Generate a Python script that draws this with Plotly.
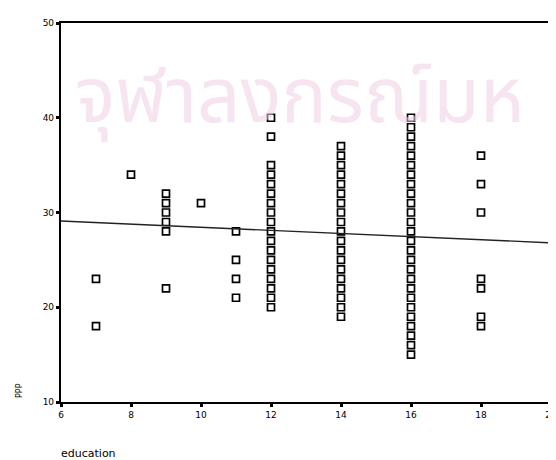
import plotly.graph_objects as go

# education values (x) and PPP scores (y), read column by column
edu_7 = [23, 18]
edu_8 = [34]
edu_9 = [32, 31, 30, 29, 28, 22]
edu_10 = [31]
edu_11 = [28, 25, 23, 21]
edu_12 = [40, 38, 35, 34, 33, 32, 31, 30, 29, 28, 27, 26, 25, 24, 23, 22, 21, 20]
edu_14 = [37, 36, 35, 34, 33, 32, 31, 30, 29, 28, 27, 26, 25, 24, 23, 22, 21, 20, 19]
edu_16 = [40, 39, 38, 37, 36, 35, 34, 33, 32, 31, 30, 29, 28, 27, 26, 25, 24, 23, 22,
          21, 20, 19, 18, 17, 16, 15]
edu_18 = [36, 33, 30, 23, 22, 19, 18]

groups = {7: edu_7, 8: edu_8, 9: edu_9, 10: edu_10, 11: edu_11,
          12: edu_12, 14: edu_14, 16: edu_16, 18: edu_18}

# fitted line end points
fit_x = [6, 20]
fit_y = [29.1, 26.8]

x_ticks = [6, 8, 10, 12, 14, 16, 18, 20]
y_ticks = [10, 20, 30, 40, 50]

# visible part of the scanned page's watermark
watermark = "จุฬาลงกรณ์มห"

xs, ys = [], []
for edu, vals in groups.items():
    for v in vals:
        xs.append(edu)
        ys.append(v)

fig = go.Figure()

fig.add_trace(go.Scatter(
    x=xs, y=ys, mode="markers",
    marker=dict(symbol="square-open", size=7, color="black", line=dict(width=1.7)),
    showlegend=False, hoverinfo="x+y"))

fig.add_trace(go.Scatter(
    x=fit_x, y=fit_y, mode="lines",
    line=dict(color="#222222", width=1.4),
    showlegend=False))

label_font = dict(family="DejaVu Sans, Liberation Sans, sans-serif", size=9, color="black")

axis_common = dict(
    showline=True, linecolor="black", linewidth=2.2, mirror=True,
    ticks="outside", ticklen=3, tickwidth=2.5, tickcolor="black",
    showgrid=False, zeroline=False, tickfont=label_font,
)

fig.update_xaxes(range=[6, 20], tickvals=x_ticks, ticktext=[str(t) for t in x_ticks],
                 **axis_common)
fig.update_yaxes(range=[10, 50], tickvals=y_ticks, ticktext=[str(t) for t in y_ticks],
                 **axis_common)

wm_font = "Noto Sans Thai, Noto Sans, DejaVu Sans, sans-serif"
fig.add_annotation(text=watermark, xref="paper", yref="paper", x=0.025, y=0.80,
                   xanchor="left", yanchor="middle", showarrow=False,
                   font=dict(family=wm_font, size=76, color="rgba(238,205,228,0.55)"))

fig.add_annotation(text="education", xref="paper", yref="paper", x=-0.005, y=-0.135,
                   xanchor="left", yanchor="middle", showarrow=False,
                   font=dict(family="DejaVu Sans, sans-serif", size=11, color="black"))
fig.add_annotation(text="PPP", xref="paper", yref="paper", x=-0.085, y=0.03,
                   xanchor="center", yanchor="middle", showarrow=False, textangle=-90,
                   font=dict(family="DejaVu Sans, sans-serif", size=8, color="black"))

fig.update_layout(
    width=556, height=460,
    margin=dict(l=53, r=7, t=15, b=66),
    paper_bgcolor="white", plot_bgcolor="rgba(0,0,0,0)",
)

fig.write_html("out.html")
